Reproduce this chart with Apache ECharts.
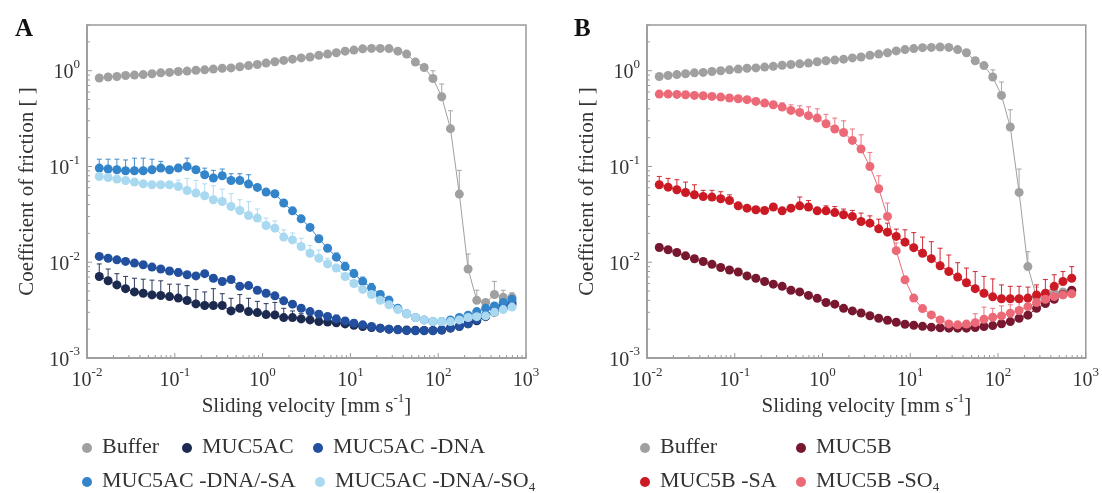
<!DOCTYPE html>
<html><head><meta charset="utf-8">
<script src="https://cdn.jsdelivr.net/npm/echarts@6/dist/echarts.min.js"></script>
<style>html,body{margin:0;padding:0;background:#fff}#c{width:1102px;height:493px}</style>
</head><body><div id="c"></div>
<script>
// ---------- data ----------
const velocity = [0.0138,0.0174,0.0219,0.0275,0.0347,0.0437,0.055,0.0692,0.0871,0.1096,
  0.138,0.174,0.219,0.275,0.347,0.437,0.55,0.692,0.871,1.096,
  1.38,1.74,2.19,2.75,3.47,4.37,5.5,6.92,8.71,10.96,
  13.8,17.4,21.9,27.5,34.7,43.7,55,69.2,87.1,109.6,
  138,174,219,275,347,437,550,692];

const xTickValues = [0.01,0.1,1,10,100,1000];
const yTickValues = [0.001,0.01,0.1,1];

// Panel A
const bufferA = [0.84,0.86,0.87,0.89,0.90,0.91,0.93,0.95,0.96,0.98,0.99,1.01,1.02,1.04,1.06,1.07,1.10,1.13,1.16,1.20,
  1.24,1.28,1.32,1.36,1.39,1.45,1.49,1.54,1.60,1.64,1.69,1.71,1.71,1.70,1.60,1.49,1.23,1.08,0.83,0.535,
  0.248,0.0515,0.0085,0.0040,0.0038,0.0046,0.0043,0.0043];
const bufferAHi = [null,null,null,null,null,null,null,null,null,null,null,null,null,null,null,null,null,null,null,null,
  null,null,null,null,null,null,null,null,null,null,null,null,null,null,null,null,null,null,1.0,0.726,
  0.382,0.091,0.0122,0.0051,null,0.0063,0.0051,0.0048];

const muc5ac = [0.0071,0.0064,0.0058,0.0053,0.0049,0.00475,0.00456,0.00449,0.00438,0.00422,0.00398,0.00367,0.00353,0.00353,0.00353,0.0031,0.00331,0.00305,0.00298,0.00284,
  0.00282,0.00264,0.00264,0.00256,0.0025,0.0024,0.00237,0.00233,0.00227,0.0022,0.00213,0.00208,0.00205,0.0020,0.00198,0.00196,0.00195,0.00194,0.00194,0.00196,
  0.00205,0.00215,0.00228,0.00245,0.0027,0.0030,0.0033,0.0036];
const muc5acHi = [0.0096,0.0085,0.0076,0.0071,0.0068,0.00665,0.0065,0.0064,0.0059,0.0059,0.0057,0.0052,0.0049,0.0053,0.0047,0.0042,0.0046,0.0042,0.0039,0.0037,
  0.0038,0.0033,0.0031,0.0029,0.0028,0.00265,0.0026,0.0025,null,null,null,null,null,null,null,null,null,null,null,null,
  null,null,null,null,null,null,null,null];

const muc5acDna = [0.0115,0.0110,0.0106,0.0102,0.0098,0.0094,0.0089,0.0085,0.0081,0.0078,0.0074,0.0072,0.0076,0.0068,0.0063,0.0066,0.0056,0.0057,0.0051,0.00475,
  0.00446,0.00395,0.00365,0.00331,0.00305,0.00287,0.00271,0.00256,0.00244,0.00231,0.00222,0.00213,0.00205,0.0020,0.00197,0.00193,0.00192,0.00192,0.00192,0.00196,
  0.00207,0.00213,0.00228,0.0025,0.0028,0.0032,0.0035,0.0038];
const muc5acDnaHi = [null,null,null,null,null,null,null,null,null,0.0085,null,null,null,null,0.0068,null,0.0060,0.0061,null,null,
  null,null,null,null,null,0.0031,0.0029,0.0028,0.0026,0.0025,0.0024,0.0023,0.0022,null,null,null,null,null,null,null,
  null,null,null,null,null,null,null,null];

const muc5acDnaSa = [0.0962,0.094,0.0924,0.0902,0.0902,0.0902,0.0924,0.0962,0.0924,0.0962,0.100,0.0924,0.0819,0.0757,0.080,0.0714,0.0714,0.0655,0.0604,0.054,
  0.0519,0.0415,0.0344,0.0284,0.0231,0.0176,0.0140,0.0113,0.0090,0.0076,0.0063,0.0054,0.0046,0.0040,0.0033,0.0029,0.00265,0.0025,0.0024,0.0024,
  0.0025,0.00265,0.0028,0.00305,0.0033,0.0035,0.0038,0.0041];
const muc5acDnaSaHi = [0.119,0.119,0.119,0.117,0.122,0.122,0.119,0.113,null,0.105,0.122,null,0.096,0.091,0.094,0.084,0.084,0.082,null,null,
  null,null,null,null,null,null,null,0.0125,0.0100,0.0084,0.0070,0.0060,0.0050,0.0044,null,null,null,null,null,null,
  null,null,null,null,null,null,null,null];

const muc5acDnaSo4 = [0.0786,0.0767,0.0738,0.0714,0.0687,0.0659,0.0644,0.0644,0.0644,0.0618,0.0561,0.0527,0.0494,0.0449,0.0431,0.0382,0.0347,0.0308,0.0289,0.0242,
  0.0227,0.0183,0.0171,0.0146,0.0124,0.0110,0.0096,0.0087,0.0071,0.0060,0.0052,0.0046,0.0040,0.0036,0.0032,0.0029,0.00265,0.0025,0.0024,0.0024,
  0.0024,0.0025,0.00265,0.0027,0.00275,0.0030,0.0032,0.0034];
const muc5acDnaSo4Hi = [null,null,null,null,null,null,null,null,null,0.072,0.075,0.0714,0.066,0.063,0.058,0.052,0.045,0.043,0.036,0.0289,
  0.027,0.0218,0.0202,0.0178,0.015,0.0134,0.011,0.0095,null,null,null,null,null,null,null,null,null,null,null,null,
  null,null,null,null,null,null,null,null];

// Panel B
const bufferB = [0.87,0.89,0.91,0.93,0.95,0.96,0.98,1.0,1.02,1.04,1.06,1.07,1.09,1.11,1.14,1.16,1.18,1.20,1.24,1.27,
  1.29,1.32,1.36,1.39,1.45,1.49,1.54,1.61,1.66,1.70,1.74,1.75,1.77,1.75,1.66,1.54,1.27,1.13,0.86,0.552,
  0.258,0.0536,0.0090,0.0043,0.0045,0.0048,0.0049,0.0050];
const bufferBHi = [null,null,null,null,null,null,null,null,null,null,null,null,null,null,null,null,null,null,null,null,
  null,null,null,null,null,null,null,null,null,null,null,null,null,null,null,null,null,null,1.02,0.762,
  0.391,0.094,0.0129,0.0055,null,0.0058,null,null];

const muc5b = [0.01425,0.01349,0.01263,0.01167,0.01086,0.01017,0.0095,0.0088,0.0083,0.0079,0.0072,0.0068,0.0063,0.0059,0.0056,0.0051,0.0049,0.0045,0.0042,0.0038,
  0.00365,0.0033,0.0031,0.00295,0.00276,0.0026,0.00248,0.00236,0.00225,0.0022,0.00214,0.0021,0.00207,0.00205,0.00205,0.00205,0.00208,0.00213,0.00218,0.00228,
  0.0024,0.0026,0.0028,0.0033,0.0037,0.0041,0.0046,0.0051];
const muc5bHi = [0.0155,null,null,null,null,null,null,0.0094,null,0.0084,null,null,null,null,null,null,null,null,null,null,
  null,null,null,null,null,null,null,null,null,null,null,null,null,null,null,null,null,null,null,null,
  null,null,null,null,null,null,null,null];

const muc5bSa = [0.0644,0.0608,0.0571,0.0535,0.0506,0.0486,0.0479,0.0460,0.0441,0.0388,0.0367,0.0353,0.0347,0.0377,0.0344,0.0367,0.0388,0.0377,0.0344,0.0344,
  0.0330,0.0313,0.0301,0.0266,0.0256,0.0223,0.0206,0.0186,0.0162,0.0142,0.0124,0.0109,0.0092,0.0080,0.0070,0.0061,0.0053,0.00475,0.00435,0.00416,
  0.00416,0.00416,0.00422,0.00456,0.00475,0.0056,0.0063,0.0068];
const muc5bSaHi = [0.0786,0.075,0.0727,0.0687,0.0644,0.0563,0.0563,0.0545,0.0506,null,null,null,null,null,null,null,0.048,0.0441,null,0.0388,
  0.0382,0.0359,0.0347,0.0326,0.0305,0.0282,0.0256,0.0222,0.0218,0.0204,0.0183,0.0164,0.0140,0.0119,0.0099,0.0087,0.0080,0.0071,0.0067,0.0058,
  0.0056,0.0056,0.0055,0.0058,0.0066,0.0074,0.0080,0.0090];

const muc5bSo4 = [0.570,0.570,0.565,0.561,0.552,0.547,0.539,0.530,0.518,0.510,0.498,0.478,0.459,0.441,0.417,0.385,0.367,0.339,0.320,0.279,
  0.246,0.2265,0.187,0.152,0.100,0.0585,0.0301,0.0132,0.00655,0.00422,0.00328,0.00282,0.0025,0.00227,0.00222,0.00226,0.00234,0.00254,0.00267,0.00275,
  0.00294,0.00313,0.00344,0.00379,0.00411,0.00438,0.00456,0.00468];
const muc5bSo4Hi = [null,null,null,null,null,null,null,null,null,null,null,null,null,0.47,0.46,0.44,0.43,0.42,0.40,0.35,
  0.32,0.30,0.246,0.214,0.140,0.080,0.0415,0.0159,0.0071,null,null,null,null,null,null,null,0.0029,0.0034,0.0033,0.0035,
  0.0036,0.0038,0.0041,0.0045,0.0048,0.0050,null,null];

// ---------- styling ----------
const FONT = '"Liberation Serif","DejaVu Serif",serif';
const TXT = '#333';
const AXC = '#9a9a9a';
const COL = {
  buffer: '#a0a0a0', muc5ac: '#1c2a50', dna: '#22509f', sa: '#3384c9', so4: '#a9d8f1',
  muc5b: '#781830', bsa: '#cc1a25', bso4: '#ec6a78'
};

function supLabel(v) {
  const l = Math.log10(v);
  const e = Math.round(l);
  if (Math.abs(l - e) > 1e-6) return '';
  return '{b|10}{s|' + e + '}';
}
const labelRich = {
  b: {fontSize: 20, fontFamily: FONT, color: TXT, lineHeight: 25, verticalAlign: 'bottom'},
  s: {fontSize: 13, fontFamily: FONT, color: TXT, lineHeight: 15, verticalAlign: 'top'}
};

const grids = [
  {left: 87, top: 25, width: 439, height: 333},
  {left: 647, top: 25, width: 439, height: 333}
];

function xAxis(gi) {
  return {
    type: 'log', logBase: 10, gridIndex: gi, min: 0.01, max: 1000,
    axisLine: {show: true, lineStyle: {color: AXC, width: 1.5}},
    axisTick: {show: false}, splitLine: {show: false},
    axisLabel: {formatter: supLabel, margin: 8, rich: labelRich},
    name: '{n|Sliding velocity [mm s}{s|-1}{n|]}', nameLocation: 'middle', nameGap: 34,
    nameMoveOverlap: false,
    nameTextStyle: {rich: {
      n: {fontSize: 21, fontFamily: FONT, color: TXT, lineHeight: 25, verticalAlign: 'bottom'},
      s: {fontSize: 13, fontFamily: FONT, color: TXT, lineHeight: 15, verticalAlign: 'top'}
    }}
  };
}
function yAxis(gi) {
  return {
    type: 'log', logBase: 10, gridIndex: gi, min: 0.001, max: 3,
    axisLine: {show: true, lineStyle: {color: AXC, width: 1.5}},
    axisTick: {show: false}, splitLine: {show: false},
    axisLabel: {formatter: supLabel, margin: 7, rich: labelRich},
    name: 'Coefficient of friction [ ]', nameLocation: 'middle', nameGap: 49,
    nameMoveOverlap: false,
    nameTextStyle: {fontSize: 21, fontFamily: FONT, color: TXT}
  };
}

// tick marks (inside) drawn through the axes
function tickSeries(gi) {
  const data = [];
  for (let k = -3; k <= 0; k++) {
    const base = Math.pow(10, k);
    data.push([0.01, base, 0, 5]);
    for (let m = 2; m <= 9; m++) { const v = m * base; if (v <= 3) data.push([0.01, v, 0, 3]); }
  }
  for (let k = -2; k <= 3; k++) {
    const base = Math.pow(10, k);
    data.push([base, 0.001, 1, 5]);
    if (k < 3) for (let m = 2; m <= 9; m++) data.push([m * base, 0.001, 1, 3]);
  }
  return {
    type: 'custom', name: 'ticks' + gi, xAxisIndex: gi, yAxisIndex: gi, silent: true, z: 5,
    data: data, encode: {x: 0, y: 1}, clip: false,
    renderItem: function (params, api) {
      const p = api.coord([api.value(0), api.value(1)]);
      const dir = api.value(2), len = api.value(3);
      const shape = dir === 0 ? {x1: p[0], y1: p[1], x2: p[0] + len, y2: p[1]}
                              : {x1: p[0], y1: p[1], x2: p[0], y2: p[1] - len};
      return {type: 'line', shape: shape, style: {stroke: AXC, lineWidth: 1}};
    }
  };
}

function seriesPair(gi, name, color, vals, hi) {
  const errData = [];
  velocity.forEach((x, i) => { if (hi[i] != null) errData.push([x, vals[i], hi[i]]); });
  return [{
    type: 'custom', name: name + ' (err)', xAxisIndex: gi, yAxisIndex: gi, silent: true, z: 2,
    data: errData, encode: {x: 0, y: 1},
    renderItem: function (params, api) {
      const p0 = api.coord([api.value(0), api.value(1)]);
      const p1 = api.coord([api.value(0), api.value(2)]);
      const st = {stroke: color, lineWidth: 1.1, opacity: 0.85};
      return {type: 'group', children: [
        {type: 'line', shape: {x1: p0[0], y1: p0[1], x2: p1[0], y2: p1[1]}, style: st},
        {type: 'line', shape: {x1: p1[0] - 2.5, y1: p1[1], x2: p1[0] + 2.5, y2: p1[1]}, style: st}
      ]};
    }
  }, {
    type: 'line', name: name, xAxisIndex: gi, yAxisIndex: gi, z: 3,
    data: velocity.map((x, i) => [x, vals[i]]),
    symbol: 'circle', symbolSize: 9, showSymbol: true,
    lineStyle: {color: color, width: 1}, itemStyle: {color: color},
    emphasis: {disabled: true}
  }];
}

const series = [].concat(
  seriesPair(0, 'Buffer', COL.buffer, bufferA, bufferAHi),
  seriesPair(0, 'MUC5AC', COL.muc5ac, muc5ac, muc5acHi),
  seriesPair(0, 'MUC5AC -DNA', COL.dna, muc5acDna, muc5acDnaHi),
  seriesPair(0, 'MUC5AC -DNA/-SA', COL.sa, muc5acDnaSa, muc5acDnaSaHi),
  seriesPair(0, 'MUC5AC -DNA/-SO4', COL.so4, muc5acDnaSo4, muc5acDnaSo4Hi),
  seriesPair(1, 'Buffer', COL.buffer, bufferB, bufferBHi),
  seriesPair(1, 'MUC5B', COL.muc5b, muc5b, muc5bHi),
  seriesPair(1, 'MUC5B -SA', COL.bsa, muc5bSa, muc5bSaHi),
  seriesPair(1, 'MUC5B -SO4', COL.bso4, muc5bSo4, muc5bSo4Hi),
  [tickSeries(0), tickSeries(1)]
);

function legendAt(name, left, top) {
  return {
    data: [name], left: left, top: top, icon: 'circle', itemWidth: 20, itemHeight: 10,
    selectedMode: false, padding: 0,
    formatter: function (n) {
      if (/SO4$/.test(n)) return '{n|' + n.slice(0, -1) + '}{sub|4}';
      return '{n|' + n + '}{sub|}';
    },
    textStyle: {rich: {
      n: {fontSize: 22, fontFamily: FONT, color: TXT, lineHeight: 24, verticalAlign: 'top'},
      sub: {fontSize: 13, fontFamily: FONT, color: TXT, lineHeight: 12, verticalAlign: 'bottom'}
    }}
  };
}

const legends = [
  legendAt('Buffer', 82, 436),
  legendAt('MUC5AC', 182, 436),
  legendAt('MUC5AC -DNA', 313, 436),
  legendAt('MUC5AC -DNA/-SA', 82, 470),
  legendAt('MUC5AC -DNA/-SO4', 315, 470),
  legendAt('Buffer', 640, 436),
  legendAt('MUC5B', 796, 436),
  legendAt('MUC5B -SA', 640, 470),
  legendAt('MUC5B -SO4', 796, 470)
];

const chart = echarts.init(document.getElementById('c'), null, {renderer: 'canvas'});
chart.setOption({
  animation: false,
  backgroundColor: '#fff',
  title: [
    {text: 'A', left: 10, top: 12, textStyle: {fontFamily: FONT, fontWeight: 'bold', fontSize: 25, color: '#111'}},
    {text: 'B', left: 569, top: 12, textStyle: {fontFamily: FONT, fontWeight: 'bold', fontSize: 25, color: '#111'}}
  ],
  grid: grids.map(g => Object.assign({show: true, borderColor: AXC, borderWidth: 1.5, backgroundColor: 'transparent'}, g)),
  xAxis: [xAxis(0), xAxis(1)],
  yAxis: [yAxis(0), yAxis(1)],
  legend: legends,
  series: series
});
</script>
</body></html>
